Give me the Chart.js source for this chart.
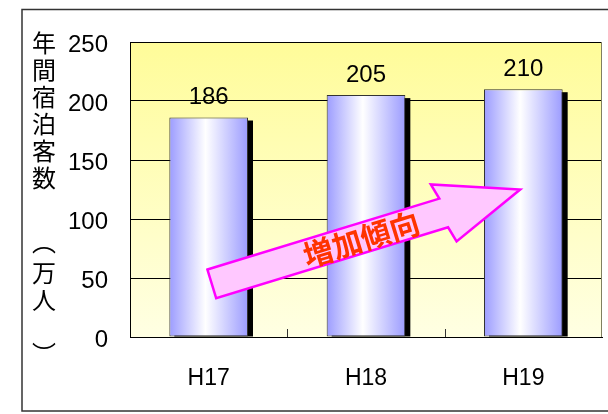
<!DOCTYPE html>
<html>
<head>
<meta charset="utf-8">
<script src="https://cdn.jsdelivr.net/npm/chart.js@4.4.1/dist/chart.umd.min.js"></script>
<style>
  html, body { margin: 0; padding: 0; background: #fff; }
  #wrap { width: 608px; height: 414px; }
</style>
</head>
<body>
<div id="wrap"><canvas id="chart" width="608" height="414"></canvas></div>
<script>
// data
var years = ["H17", "H18", "H19"];
var guests = [186, 205, 210];
var yTicks = [0, 50, 100, 150, 200, 250];
var yTitle = ["年", "間", "宿", "泊", "客", "数", "︵", "万", "人", "︶"];
var trendText = "増加傾向";
// arrow from/to in data units (category index, value)
var trendFrom = [0.02, 45];
var trendTo = [1.98, 125];

var numFont = "Liberation Sans, Arial, sans-serif";
var cjkFont = "'Noto Sans CJK JP', sans-serif";

var framePlugin = {
	id: "frame",
	beforeDraw: function(chart) {
		var c = chart.ctx, a = chart.chartArea;
		c.save();
		c.fillStyle = "#fff";
		c.fillRect(0, 0, chart.width, chart.height);
		c.strokeStyle = "#333";
		c.lineWidth = 1.5;
		c.strokeRect(22, 9.5, 600, 401.5);
		// plot background
		var g = c.createLinearGradient(0, a.top, 0, a.bottom);
		g.addColorStop(0, "#fffc99");
		g.addColorStop(1, "#ffffe3");
		c.fillStyle = g;
		c.fillRect(a.left, a.top, a.right - a.left, a.bottom - a.top);
		c.restore();
	},
	beforeDatasetsDraw: function(chart) {
		var c = chart.ctx, a = chart.chartArea;
		c.save();
		// right border of plot
		c.strokeStyle = "#808060";
		c.lineWidth = 1;
		c.beginPath();
		c.moveTo(a.right - 0.5, a.top);
		c.lineTo(a.right - 0.5, a.bottom);
		c.stroke();
		// small inner ticks between categories
		c.strokeStyle = "#333";
		for (var i = 0; i < years.length - 1; i++) {
			var x = Math.round(chart.scales.x.getPixelForValue(i + 0.5)) + 0.5;
			c.beginPath();
			c.moveTo(x, a.bottom - 8);
			c.lineTo(x, a.bottom);
			c.stroke();
		}
		// bar shadows
		c.fillStyle = "#000";
		chart.getDatasetMeta(0).data.forEach(function(el) {
			c.fillRect(el.x - el.width / 2 + 5, el.y + 3, el.width, el.base - el.y - 3);
		});
		c.restore();
	},
	afterDatasetsDraw: function(chart) {
		var c = chart.ctx;
		c.save();
		c.fillStyle = "#000";
		c.font = "24px " + numFont;
		c.textAlign = "center";
		c.textBaseline = "middle";
		chart.getDatasetMeta(0).data.forEach(function(el, i) {
			c.fillText(guests[i], el.x, el.y - 20);
		});
		// y axis title, written vertically, each glyph centred on its ink
		c.font = "24px " + cjkFont;
		c.textBaseline = "alphabetic";
		var ys = [43, 70, 97, 124, 151, 178, 250, 274, 300, 345];
		yTitle.forEach(function(ch, i) {
			var m = c.measureText(ch);
			var dy = (m.actualBoundingBoxAscent - m.actualBoundingBoxDescent) / 2;
			c.fillText(ch, 44, ys[i] + dy);
		});
		c.restore();
	},
	afterDraw: function(chart) {
		var c = chart.ctx, xs = chart.scales.x, ysc = chart.scales.y;
		var x0 = xs.getPixelForValue(trendFrom[0]), y0 = ysc.getPixelForValue(trendFrom[1]);
		var x1 = xs.getPixelForValue(trendTo[0]), y1 = ysc.getPixelForValue(trendTo[1]);
		var len = Math.hypot(x1 - x0, y1 - y0);
		var ang = Math.atan2(y1 - y0, x1 - x0);
		var hw = 15, hh = 31, hl = 80;
		c.save();
		c.translate(x0, y0);
		c.rotate(ang);
		c.beginPath();
		c.moveTo(0, -hw);
		c.lineTo(len - hl, -hw);
		c.lineTo(len - hl - 4, -hh);
		c.lineTo(len, 0);
		c.lineTo(len - hl + 4, hh);
		c.lineTo(len - hl, hw);
		c.lineTo(0, hw);
		c.closePath();
		c.fillStyle = "#ffc8ff";
		c.fill();
		c.strokeStyle = "#ff00ff";
		c.lineWidth = 2.5;
		c.lineJoin = "miter";
		c.stroke();
		c.fillStyle = "#ff3300";
		c.font = "bold 30px " + cjkFont;
		c.textAlign = "center";
		c.textBaseline = "middle";
		c.fillText(trendText, 156, 1);
		c.restore();
	}
};

var ctx = document.getElementById("chart").getContext("2d");
window.myChart = new Chart(ctx, {
	type: "bar",
	data: {
		labels: years,
		datasets: [{
			data: guests,
			backgroundColor: function(context) {
				var chart = context.chart;
				if (!chart.chartArea) return "#a0a0ff";
				var x = chart.scales.x.getPixelForValue(context.dataIndex);
				var w = (chart.chartArea.right - chart.chartArea.left) / years.length * 0.5;
				var g = chart.ctx.createLinearGradient(x - w / 2, 0, x + w / 2, 0);
				g.addColorStop(0, "#9c9cff");
				g.addColorStop(0.46, "#ffffff");
				g.addColorStop(1, "#9c9cff");
				return g;
			},
			borderColor: "#333",
			borderWidth: 1,
			borderSkipped: false,
			barPercentage: 1,
			categoryPercentage: 0.5
		}]
	},
	options: {
		responsive: false,
		animation: false,
		layout: { padding: { top: 42, right: 6, left: 0, bottom: 0 } },
		plugins: { legend: { display: false }, tooltip: { enabled: false }, title: { display: false } },
		scales: {
			x: {
				grid: { display: false, drawTicks: false },
				border: { display: true, color: "#000", width: 1 },
				ticks: { color: "#000", font: { family: numFont, size: 23 }, padding: 28 },
				afterFit: function(s) { s.height = 77; }
			},
			y: {
				min: 0, max: 250,
				afterBuildTicks: function(s) { s.ticks = yTicks.map(function(v) { return { value: v }; }); },
				grid: { color: "#000", lineWidth: 1, drawTicks: false },
				border: { display: true, color: "#000", width: 1 },
				ticks: { color: "#000", font: { family: numFont, size: 24 }, padding: 22, labelOffset: 3 },
				afterFit: function(s) { s.width = 130; }
			}
		}
	},
	plugins: [framePlugin]
});
</script>
</body>
</html>
